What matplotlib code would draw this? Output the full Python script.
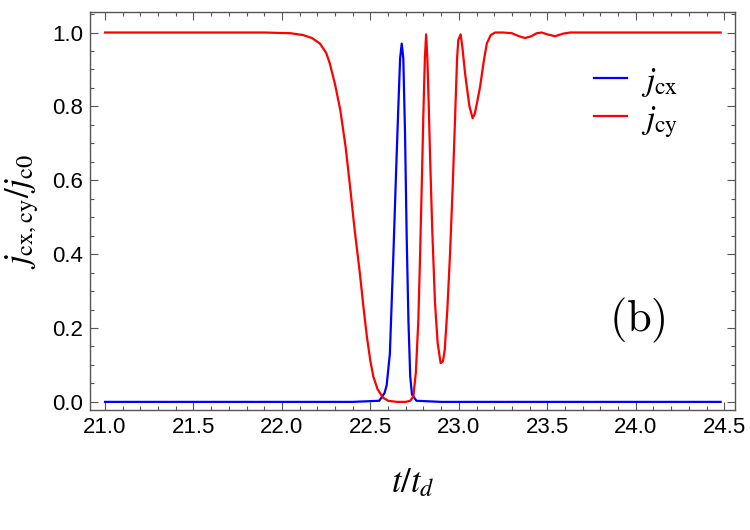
import numpy as np
import matplotlib
matplotlib.use('Agg')
import matplotlib.pyplot as plt
from matplotlib.ticker import MultipleLocator, FormatStrFormatter

plt.rcParams['mathtext.fontset'] = 'stix'
plt.rcParams['font.family'] = ['Liberation Sans', 'DejaVu Sans']

# red curve: j_cy / j_c0
t_cy = [21.0, 21.5, 21.9, 22.05, 22.12, 22.17, 22.215, 22.25, 22.27, 22.30,
        22.33, 22.36, 22.385, 22.41, 22.44, 22.46, 22.48, 22.50, 22.517, 22.54,
        22.57, 22.60, 22.65, 22.70, 22.725, 22.743, 22.757, 22.771, 22.78, 22.79,
        22.80, 22.808, 22.815, 22.822, 22.83, 22.837, 22.85, 22.865, 22.88, 22.897,
        22.91, 22.92, 22.935, 22.95, 22.965, 22.978, 22.99, 22.997, 23.01, 23.02,
        23.035, 23.045, 23.06, 23.078, 23.09, 23.105, 23.12, 23.14, 23.158, 23.18,
        23.205, 23.25, 23.30, 23.34, 23.374, 23.41, 23.44, 23.468, 23.50, 23.544,
        23.59, 23.63, 24.0, 24.48]
j_cy = [1.0, 1.0, 1.0, 0.998, 0.993, 0.985, 0.97, 0.945, 0.917, 0.86,
        0.79, 0.69, 0.583, 0.47, 0.35, 0.26, 0.177, 0.11, 0.068, 0.035,
        0.012, 0.003, 0.0, 0.0, 0.003, 0.015, 0.08, 0.22, 0.38, 0.58,
        0.79, 0.93, 0.995, 0.93, 0.80, 0.67, 0.46, 0.27, 0.16, 0.105,
        0.11, 0.14, 0.25, 0.40, 0.58, 0.76, 0.93, 0.98, 0.995, 0.96,
        0.89, 0.853, 0.80, 0.768, 0.78, 0.815, 0.853, 0.92, 0.97, 0.993,
        1.0, 1.0, 0.998, 0.99, 0.985, 0.99, 0.998, 1.0, 0.995, 0.99,
        0.997, 1.0, 1.0, 1.0]

# blue curve: j_cx / j_c0
t_cx = [21.0, 22.4, 22.55, 22.58, 22.592, 22.61, 22.63, 22.645, 22.658, 22.668,
        22.677, 22.686, 22.696, 22.705, 22.715, 22.725, 22.735, 22.76, 22.9, 24.48]
j_cx = [0.0, 0.0, 0.003, 0.024, 0.045, 0.13, 0.40, 0.62, 0.80, 0.93,
        0.97, 0.93, 0.72, 0.45, 0.22, 0.07, 0.02, 0.003, 0.0, 0.0]

fig = plt.figure(figsize=(7.5, 5.3), dpi=100)
ax = fig.add_axes([0.12, 0.2264, 0.86, 0.7506])

ax.plot(t_cx, j_cx, color='#0000ff', lw=1.6, label=r'$j_{\rm cx}$')
ax.plot(t_cy, j_cy, color='#ff0000', lw=1.6, label=r'$j_{\rm cy}$')

ax.set_xlim(20.915, 24.561)
ax.set_ylim(-0.022, 1.055)

ax.xaxis.set_major_locator(MultipleLocator(0.5))
ax.xaxis.set_minor_locator(MultipleLocator(0.1))
ax.yaxis.set_major_locator(MultipleLocator(0.2))
ax.yaxis.set_minor_locator(MultipleLocator(0.05))
ax.xaxis.set_major_formatter(FormatStrFormatter('%.1f'))
ax.yaxis.set_major_formatter(FormatStrFormatter('%.1f'))

ax.tick_params(which='both', direction='in', top=True, right=True,
               color='#555555', labelsize=16, width=0.8)
ax.tick_params(which='major', length=6, pad=5)
ax.tick_params(which='minor', length=3)
for s in ax.spines.values():
    s.set_color('#555555')
    s.set_linewidth(1.0)

ax.set_xlabel(r'$t/t_d$', fontsize=25, labelpad=20)
ax.set_ylabel(r'$j_{\rm cx,cy}/j_{\rm c0}$', fontsize=25, labelpad=8)

ax.legend(loc='upper left', bbox_to_anchor=(0.735, 0.94), frameon=False,
          fontsize=24, handlelength=1.0, handletextpad=0.4, labelspacing=0.15)

ax.text(0.848, 0.226, r'$\mathrm{(b)}$', transform=ax.transAxes, fontsize=32,
        math_fontfamily='cm', ha='center', va='center')

fig.savefig('out.png', dpi=100)
